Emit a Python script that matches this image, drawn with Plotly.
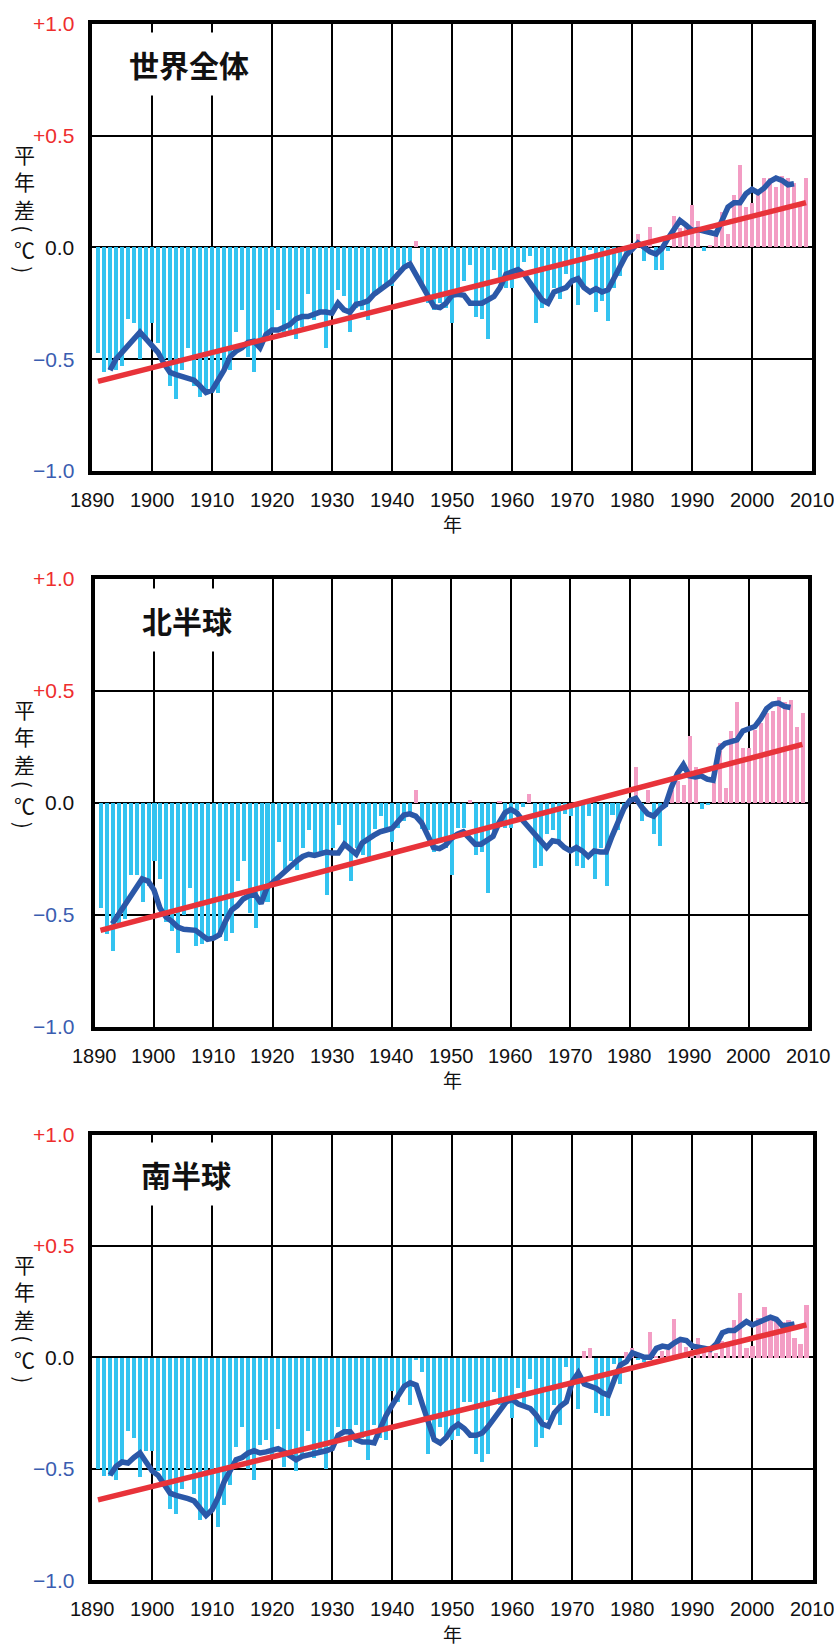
import plotly.graph_objects as go

# ---------------------------------------------------------------------------
# Annual mean surface temperature anomalies (°C), 1891-2009
# ---------------------------------------------------------------------------
years = list(range(1891, 2010))
smooth_years = list(range(1893, 2008))
trend_years = [1891, 2009]

global_anom = [
    -0.475, -0.56, -0.55, -0.55, -0.53, -0.32, -0.34, -0.50, -0.41,            # 1891-1899
    -0.34, -0.43, -0.50, -0.62, -0.68, -0.55, -0.45, -0.62, -0.67, -0.65,      # 1900s
    -0.65, -0.65, -0.55, -0.55, -0.38, -0.28, -0.49, -0.56, -0.43, -0.385,     # 1910s
    -0.36, -0.28, -0.40, -0.385, -0.41, -0.355, -0.21, -0.325, -0.295, -0.45,  # 1920s
    -0.28, -0.19, -0.22, -0.38, -0.27, -0.28, -0.325, -0.22, -0.19, -0.175,    # 1930s
    -0.175, -0.10, -0.09, -0.06, 0.03, -0.175, -0.25, -0.28, -0.25, -0.27,     # 1940s
    -0.34, -0.21, -0.15, -0.08, -0.31, -0.32, -0.41, -0.10, -0.15, -0.18,      # 1950s
    -0.18, -0.13, -0.065, -0.04, -0.34, -0.27, -0.25, -0.18, -0.23, -0.12,     # 1960s
    -0.15, -0.26, -0.18, -0.01, -0.29, -0.24, -0.33, -0.18, -0.13, -0.04,      # 1970s
    0.02, 0.06, -0.06, 0.09, -0.10, -0.10, -0.015, 0.14, 0.085, 0.11,          # 1980s
    0.19, 0.12, -0.015, 0.01, 0.055, 0.16, 0.06, 0.235, 0.37, 0.18,            # 1990s
    0.20, 0.25, 0.31, 0.31, 0.27, 0.32, 0.31, 0.29, 0.20, 0.31,                # 2000s
]

nh_anom = [
    -0.47, -0.585, -0.66, -0.55, -0.52, -0.32, -0.32, -0.44, -0.37,            # 1891-1899
    -0.26, -0.34, -0.53, -0.57, -0.67, -0.50, -0.38, -0.64, -0.63, -0.615,     # 1900s
    -0.61, -0.60, -0.615, -0.58, -0.35, -0.26, -0.49, -0.56, -0.43, -0.44,     # 1910s
    -0.35, -0.175, -0.30, -0.26, -0.30, -0.20, -0.12, -0.23, -0.23, -0.41,     # 1920s
    -0.20, -0.10, -0.18, -0.35, -0.20, -0.23, -0.24, -0.115, -0.06, -0.13,     # 1930s
    -0.175, -0.11, -0.08, -0.04, 0.06, -0.115, -0.12, -0.22, -0.17, -0.20,     # 1940s
    -0.32, -0.11, -0.11, 0.015, -0.23, -0.22, -0.40, -0.15, 0.01, -0.11,       # 1950s
    -0.11, -0.03, -0.02, 0.04, -0.29, -0.28, -0.14, -0.12, -0.18, -0.05,       # 1960s
    -0.06, -0.28, -0.29, -0.06, -0.34, -0.20, -0.37, -0.055, -0.12, -0.02,     # 1970s
    0.01, 0.16, -0.08, 0.06, -0.14, -0.19, -0.02, 0.06, 0.10, 0.08,            # 1980s
    0.30, 0.16, -0.025, -0.01, 0.09, 0.27, 0.065, 0.32, 0.45, 0.245,           # 1990s
    0.245, 0.325, 0.355, 0.40, 0.41, 0.475, 0.45, 0.46, 0.34, 0.40,            # 2000s
]

sh_anom = [
    -0.50, -0.53, -0.53, -0.55, -0.47, -0.33, -0.36, -0.535, -0.42,            # 1891-1899
    -0.42, -0.51, -0.58, -0.68, -0.70, -0.59, -0.50, -0.61, -0.73, -0.715,     # 1900s
    -0.69, -0.76, -0.66, -0.57, -0.40, -0.31, -0.50, -0.55, -0.39, -0.37,      # 1910s
    -0.45, -0.32, -0.49, -0.45, -0.51, -0.44, -0.33, -0.45, -0.42, -0.50,      # 1920s
    -0.39, -0.31, -0.33, -0.40, -0.30, -0.36, -0.46, -0.30, -0.36, -0.37,      # 1930s
    -0.15, -0.20, -0.13, -0.21, -0.01, -0.065, -0.43, -0.37, -0.31, -0.36,     # 1940s
    -0.37, -0.35, -0.20, -0.20, -0.43, -0.47, -0.43, -0.155, -0.21, -0.18,     # 1950s
    -0.27, -0.135, -0.21, -0.095, -0.40, -0.36, -0.28, -0.21, -0.30, -0.04,    # 1960s
    -0.12, -0.23, 0.03, 0.045, -0.25, -0.26, -0.26, -0.03, -0.12, 0.025,       # 1970s
    0.045, -0.01, -0.02, 0.115, 0.01, 0.03, 0.035, 0.175, 0.08, 0.05,          # 1980s
    0.035, 0.09, 0.04, 0.03, 0.02, 0.075, 0.055, 0.17, 0.29, 0.045,            # 1990s
    0.055, 0.18, 0.23, 0.18, 0.17, 0.16, 0.17, 0.09, 0.06, 0.235,              # 2000s
]

# 5-year running means (centred), 1893-2007
global_smooth = [
    -0.55, -0.50, -0.47, -0.44, -0.41, -0.38, -0.41,                           # 1893-1899
    -0.44, -0.47, -0.52, -0.56, -0.57, -0.58, -0.59, -0.595, -0.62, -0.65,     # 1900s
    -0.64, -0.60, -0.55, -0.49, -0.465, -0.45, -0.425, -0.42, -0.45, -0.39,    # 1910s
    -0.37, -0.37, -0.355, -0.345, -0.32, -0.31, -0.31, -0.30, -0.29, -0.29,    # 1920s
    -0.295, -0.25, -0.28, -0.29, -0.255, -0.25, -0.24, -0.21, -0.19, -0.17,    # 1930s
    -0.15, -0.12, -0.09, -0.075, -0.12, -0.165, -0.21, -0.265, -0.27, -0.25,   # 1940s
    -0.215, -0.21, -0.215, -0.25, -0.25, -0.25, -0.235, -0.22, -0.18, -0.12,   # 1950s
    -0.11, -0.10, -0.12, -0.16, -0.20, -0.235, -0.25, -0.20, -0.19, -0.18,     # 1960s
    -0.15, -0.14, -0.18, -0.20, -0.185, -0.20, -0.19, -0.14, -0.09, -0.035,    # 1970s
    -0.01, 0.02, 0.00, -0.02, -0.03, -0.005, 0.04, 0.08, 0.12, 0.10,           # 1980s
    0.075, 0.08, 0.075, 0.065, 0.06, 0.12, 0.18, 0.20, 0.20, 0.24,             # 1990s
    0.26, 0.245, 0.265, 0.295, 0.31, 0.30, 0.28, 0.285,                        # 2000-2007
]

nh_smooth = [
    -0.54, -0.50, -0.45, -0.42, -0.38, -0.34, -0.35,                           # 1893-1899
    -0.39, -0.47, -0.51, -0.53, -0.555, -0.565, -0.57, -0.57, -0.59, -0.61,    # 1900s
    -0.605, -0.59, -0.53, -0.48, -0.46, -0.43, -0.415, -0.41, -0.45, -0.38,    # 1910s
    -0.355, -0.33, -0.31, -0.28, -0.26, -0.24, -0.23, -0.235, -0.225, -0.22,   # 1920s
    -0.225, -0.225, -0.185, -0.21, -0.23, -0.18, -0.16, -0.145, -0.13, -0.12,  # 1930s
    -0.115, -0.085, -0.055, -0.05, -0.06, -0.09, -0.145, -0.20, -0.205, -0.19, # 1940s
    -0.16, -0.14, -0.13, -0.16, -0.185, -0.185, -0.17, -0.15, -0.09, -0.045,   # 1950s
    -0.03, -0.045, -0.08, -0.11, -0.14, -0.17, -0.20, -0.17, -0.175, -0.20,    # 1960s
    -0.215, -0.20, -0.215, -0.24, -0.215, -0.22, -0.22, -0.15, -0.08, -0.025,  # 1970s
    0.01, 0.02, -0.02, -0.05, -0.06, -0.03, -0.01, 0.07, 0.13, 0.17,           # 1980s
    0.12, 0.115, 0.12, 0.105, 0.10, 0.24, 0.265, 0.27, 0.28, 0.32,             # 1990s
    0.33, 0.34, 0.375, 0.42, 0.44, 0.445, 0.43, 0.425,                         # 2000-2007
]

sh_smooth = [
    -0.53, -0.49, -0.47, -0.475, -0.45, -0.43, -0.47,                          # 1893-1899
    -0.51, -0.53, -0.57, -0.61, -0.62, -0.625, -0.635, -0.645, -0.68, -0.71,   # 1900s
    -0.685, -0.63, -0.56, -0.505, -0.46, -0.45, -0.43, -0.42, -0.43, -0.425,   # 1910s
    -0.415, -0.41, -0.425, -0.44, -0.46, -0.445, -0.44, -0.435, -0.43, -0.42,  # 1920s
    -0.41, -0.35, -0.335, -0.335, -0.37, -0.38, -0.38, -0.385, -0.32, -0.26,   # 1930s
    -0.215, -0.175, -0.13, -0.115, -0.125, -0.21, -0.30, -0.37, -0.385, -0.36, # 1940s
    -0.32, -0.30, -0.32, -0.35, -0.35, -0.34, -0.31, -0.275, -0.24, -0.20,     # 1950s
    -0.19, -0.21, -0.22, -0.23, -0.26, -0.30, -0.31, -0.25, -0.22, -0.20,      # 1960s
    -0.11, -0.07, -0.12, -0.13, -0.14, -0.16, -0.17, -0.10, -0.035, -0.02,     # 1970s
    0.02, 0.01, 0.00, 0.00, 0.04, 0.05, 0.045, 0.065, 0.08, 0.075,             # 1980s
    0.05, 0.045, 0.04, 0.035, 0.06, 0.11, 0.12, 0.12, 0.14, 0.16,              # 1990s
    0.145, 0.155, 0.17, 0.18, 0.17, 0.14, 0.145, 0.15,                         # 2000-2007
]

# Long-term linear trend, end points
global_trend = [-0.60, 0.20]
nh_trend = [-0.57, 0.26]
sh_trend = [-0.64, 0.145]

panel_titles = ["世界全体", "北半球", "南半球"]
decade_ticks = list(range(1890, 2011, 10))
decade_labels = [str(t) for t in decade_ticks]
y_ticks = [-1.0, -0.5, 0.0, 0.5, 1.0]
y_tick_labels = ["−1.0", "−0.5", "0.0", "+0.5", "+1.0"]
y_title_word = ["平", "年", "差"]
y_title_unit = "℃"

# ---------------------------------------------------------------------------
W, H = 834, 1647
ML, MR = 20, 20          # fixed side margins
NEG_COLOR = "#33C3F0"
POS_COLOR = "#F39DC4"
SMOOTH_COLOR = "#2B58A8"
TREND_COLOR = "#E8333A"
TICK_RED = "#EE2E2E"
TICK_BLUE = "#3A5DB0"
LABEL_FONT = "Liberation Sans, Arial, sans-serif"
CJK_FONT = "Noto Sans CJK JP, sans-serif"


def fx(px):
    """Figure pixel column -> paper x."""
    return (px - ML) / (W - ML - MR)


def fy(py):
    """Figure pixel row (from the top) -> paper y."""
    return 1 - py / H


# pixel boxes of the three plot areas: (left, right, top, bottom)
boxes = [
    (92.0, 812.0, 24.0, 470.7),
    (94.5, 808.3, 578.7, 1026.7),
    (92.0, 812.5, 1134.5, 1580.0),
]
title_pos = [(189, 64), (187, 620), (186, 1174)]
year_label_gap = 53       # frame bottom -> centre of the "年" label
tick_label_gap = 29       # frame bottom -> centre of the year tick labels
tick_colors = {"−1.0": TICK_BLUE, "−0.5": TICK_BLUE, "0.0": "#111111",
               "+0.5": TICK_RED, "+1.0": TICK_RED}

series = [
    (global_anom, global_smooth, global_trend),
    (nh_anom, nh_smooth, nh_trend),
    (sh_anom, sh_smooth, sh_trend),
]


def pixel_note(text, px, py, size, family, color="#111111", xanchor="center", **extra):
    return dict(text=text, x=fx(px), y=fy(py), xref="paper", yref="paper",
                xanchor=xanchor, yanchor="middle", showarrow=False,
                font=dict(family=family, size=size, color=color), **extra)


word_text = "<br>".join(y_title_word)

fig = go.Figure()
annotations = []
layout_axes = {}

for i, (bars, smooth, trend) in enumerate(series):
    n = "" if i == 0 else str(i + 1)
    xa, ya = "x" + n, "y" + n
    left, right, top, bottom = boxes[i]

    fig.add_trace(go.Bar(
        x=years, y=bars, xaxis=xa, yaxis=ya, width=0.68,
        marker=dict(color=[POS_COLOR if v > 0 else NEG_COLOR for v in bars],
                    line=dict(width=0)),
        showlegend=False, hoverinfo="x+y",
    ))
    fig.add_trace(go.Scatter(
        x=smooth_years, y=smooth, xaxis=xa, yaxis=ya, mode="lines",
        line=dict(color=SMOOTH_COLOR, width=5.5), showlegend=False,
    ))
    fig.add_trace(go.Scatter(
        x=trend_years, y=trend, xaxis=xa, yaxis=ya, mode="lines",
        line=dict(color=TREND_COLOR, width=5.5), showlegend=False,
    ))

    layout_axes["xaxis" + n] = dict(
        domain=[fx(left), fx(right)], anchor=ya, range=[1890, 2010],
        tickmode="array", tickvals=decade_ticks, showticklabels=False,
        showgrid=True, gridcolor="black", gridwidth=2,
        showline=True, linecolor="black", linewidth=4, mirror=True,
        ticks="", zeroline=False, automargin=False,
    )
    layout_axes["yaxis" + n] = dict(
        domain=[fy(bottom), fy(top)], anchor=xa, range=[-1, 1],
        tickmode="array", tickvals=y_ticks, showticklabels=False,
        showgrid=True, gridcolor="black", gridwidth=2,
        showline=True, linecolor="black", linewidth=4, mirror=True,
        ticks="", zeroline=False, automargin=False,
    )

    # year labels under the frame
    for val, lab in zip(decade_ticks, decade_labels):
        px = left + (val - 1890) / 120 * (right - left)
        annotations.append(pixel_note(lab, px, bottom + tick_label_gap, 20, LABEL_FONT))

    # coloured y tick labels, right-aligned beside the frame
    for val, lab in zip(y_ticks, y_tick_labels):
        py = top + (1 - val) / 2 * (bottom - top)
        annotations.append(pixel_note(lab, 76, py, 21, LABEL_FONT,
                                      color=tick_colors[lab], xanchor="right"))

    # panel title on a white box
    tx, ty = title_pos[i]
    annotations.append(pixel_note("<b>%s</b>" % panel_titles[i], tx, ty, 30, CJK_FONT,
                                  bgcolor="white", borderpad=9))
    # x-axis title
    annotations.append(pixel_note("年", 452, bottom + year_label_gap, 19, CJK_FONT,
                                  borderpad=0))

    # vertical y-axis title: word, then the unit between turned brackets
    zero_px = top + (bottom - top) / 2
    annotations.append(pixel_note(word_text, 24, zero_px - 66, 21, CJK_FONT, borderpad=0))
    annotations.append(pixel_note("(", 24, zero_px - 19, 21, CJK_FONT,
                                  textangle=90, borderpad=0))
    annotations.append(pixel_note(y_title_unit, 24, zero_px + 2, 21, CJK_FONT, borderpad=0))
    annotations.append(pixel_note(")", 24, zero_px + 22, 21, CJK_FONT,
                                  textangle=90, borderpad=0))

fig.update_layout(
    width=W, height=H, margin=dict(l=ML, r=MR, t=0, b=0, autoexpand=False),
    paper_bgcolor="white", plot_bgcolor="white",
    bargap=0, annotations=annotations, showlegend=False,
    **layout_axes,
)

fig.write_html("out.html")
